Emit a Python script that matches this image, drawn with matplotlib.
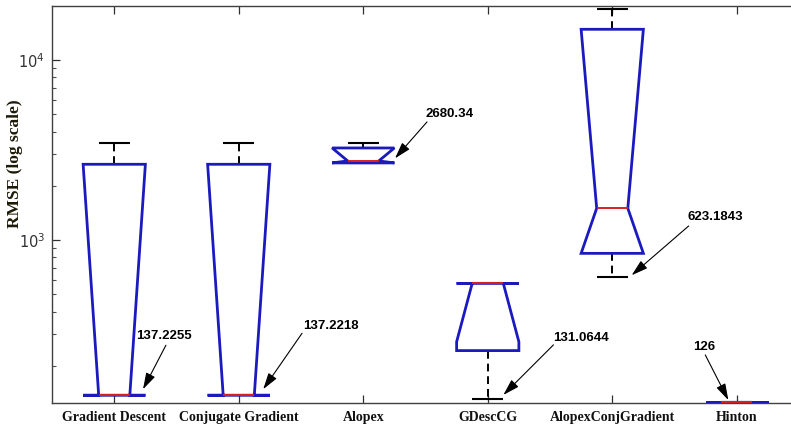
import matplotlib
matplotlib.use("Agg")
import matplotlib.pyplot as plt
from matplotlib.patches import Polygon
from matplotlib.ticker import FixedLocator, FixedFormatter, LogLocator, NullFormatter

# ---- data -------------------------------------------------------------
methods = ["Gradient Descent", "Conjugate Gradient", "Alopex",
           "GDescCG", "AlopexConjGradient", "Hinton"]
whisker_low = [137.2255, 137.2218, 2680.34, 131.0644, 623.1843, 126]
q1 = [137.2255, 137.2218, 2680.34, 243, 843, 126]
median = [137.2255, 137.2218, 2750, 574, 1500, 126]
q3 = [2634, 2634, 3245, 574, 14810, 126]
whisker_high = [3444, 3444, 3444, 574, 19280, 126]
notch_low = [137.2255, 137.2218, 2680.34, 272, 843, 126]
notch_high = [2634, 2634, 3245, 574, 14810, 126]
y_ticks = [1e3, 1e4]
y_tick_labels = [r"$\mathregular{10^{3}}$", r"$\mathregular{10^{4}}$"]

# ---- annotation layout (arrow to each minimum) -------------------------
ann_dx = [0.206, 0.163, 0.223, 0.094, 0.140, -0.060]
ann_tail = [(26, 50), (43, 62), (36, 41), (54, 54), (59, 51), (-24, 47)]
ann_text = [(-4, 59), (44, 69), (34, 49), (54, 61), (58, 60), (-36, 55)]
ann_shrink = [4.9, 5.3, 4.4, 4.0, 1.9, 1.5]

# ---- style ------------------------------------------------------------
plt.rcParams["mathtext.fontset"] = "custom"
plt.rcParams["mathtext.rm"] = "Liberation Sans"
plt.rcParams["mathtext.it"] = "Liberation Sans:italic"
plt.rcParams["mathtext.bf"] = "Liberation Sans:bold"

BOX_BLUE = "#1a1abe"
MED_RED = "#d82020"
BOX_W = 0.25     # half width of box
NOTCH_W = 0.125  # half width at the notch / caps

fig = plt.figure(figsize=(7.91, 4.25), dpi=100)
ax = fig.add_axes([52 / 791, 22 / 425, 747 / 791, 397 / 425])
ax.set_yscale("log")

positions = list(range(1, len(methods) + 1))

for i, x in enumerate(positions):
    # whiskers and caps
    ax.plot([x, x], [q3[i], whisker_high[i]], color="black", lw=1.4,
            ls=(0, (4, 2.5)), zorder=2)
    ax.plot([x, x], [q1[i], whisker_low[i]], color="black", lw=1.4,
            ls=(0, (4, 2.5)), zorder=2)
    for w in (whisker_high[i], whisker_low[i]):
        ax.plot([x - NOTCH_W, x + NOTCH_W], [w, w], color="black", lw=1.5,
                solid_capstyle="butt", zorder=2)
    # notched box outline
    L, R = x - BOX_W, x + BOX_W
    nl, nr = x - NOTCH_W, x + NOTCH_W
    verts = [(L, q1[i]), (L, notch_low[i]), (nl, median[i]), (L, notch_high[i]),
             (L, q3[i]), (R, q3[i]), (R, notch_high[i]), (nr, median[i]),
             (R, notch_low[i]), (R, q1[i])]
    ax.add_patch(Polygon(verts, closed=True, fill=False, edgecolor=BOX_BLUE,
                         lw=2.0, joinstyle="miter", zorder=3))
    # median
    ax.plot([nl, nr], [median[i], median[i]], color=MED_RED, lw=1.4,
            solid_capstyle="butt", zorder=4)

    # value callout for the minimum
    xy = (x + ann_dx[i], whisker_low[i])
    ax.annotate("", xy=xy, xytext=ann_tail[i], textcoords="offset pixels",
                arrowprops=dict(arrowstyle="-|>,head_length=1.0,head_width=0.3",
                                color="black", lw=0.8, shrinkA=0,
                                shrinkB=ann_shrink[i]),
                zorder=5)
    ax.annotate(str(whisker_low[i]), xy=xy, xytext=ann_text[i],
                textcoords="offset pixels", ha="left", va="center",
                fontsize=9.5, fontweight="bold", family="Liberation Sans",
                color="black", zorder=5)

ax.set_xlim(0.5, len(methods) + 0.5)
ax.set_ylim(124.3, 19950)

ax.xaxis.set_major_locator(FixedLocator(positions))
ax.xaxis.set_major_formatter(FixedFormatter(methods))
ax.yaxis.set_major_locator(FixedLocator(y_ticks))
ax.yaxis.set_major_formatter(FixedFormatter(y_tick_labels))
ax.yaxis.set_minor_locator(LogLocator(base=10, subs=range(2, 10)))
ax.yaxis.set_minor_formatter(NullFormatter())

ax.tick_params(axis="x", which="major", direction="in", length=6, width=0.9,
               top=True, bottom=True, color="#303030", pad=6)
ax.tick_params(axis="y", which="major", direction="in", length=6, width=0.9,
               left=True, right=False, color="#303030", pad=5,
               labelsize=10.5, labelcolor="#333333")
ax.tick_params(axis="y", which="minor", direction="in", length=3, width=0.8,
               left=True, right=False, color="#505050")

for lab in ax.get_xticklabels():
    lab.set_family("Liberation Serif")
    lab.set_fontweight("bold")
    lab.set_fontsize(10)
    lab.set_color("#111111")

for side in ("top", "left", "bottom"):
    ax.spines[side].set_color("#404040")
    ax.spines[side].set_linewidth(1.0)
ax.spines["right"].set_visible(False)

fig.text(15 / 791, 1 - 163.5 / 425, "RMSE (log scale)", rotation=90,
         ha="center", va="center", family="Liberation Serif",
         fontweight="bold", fontsize=12.5, color="#1e1a08")

fig.savefig("out.png", dpi=100)
